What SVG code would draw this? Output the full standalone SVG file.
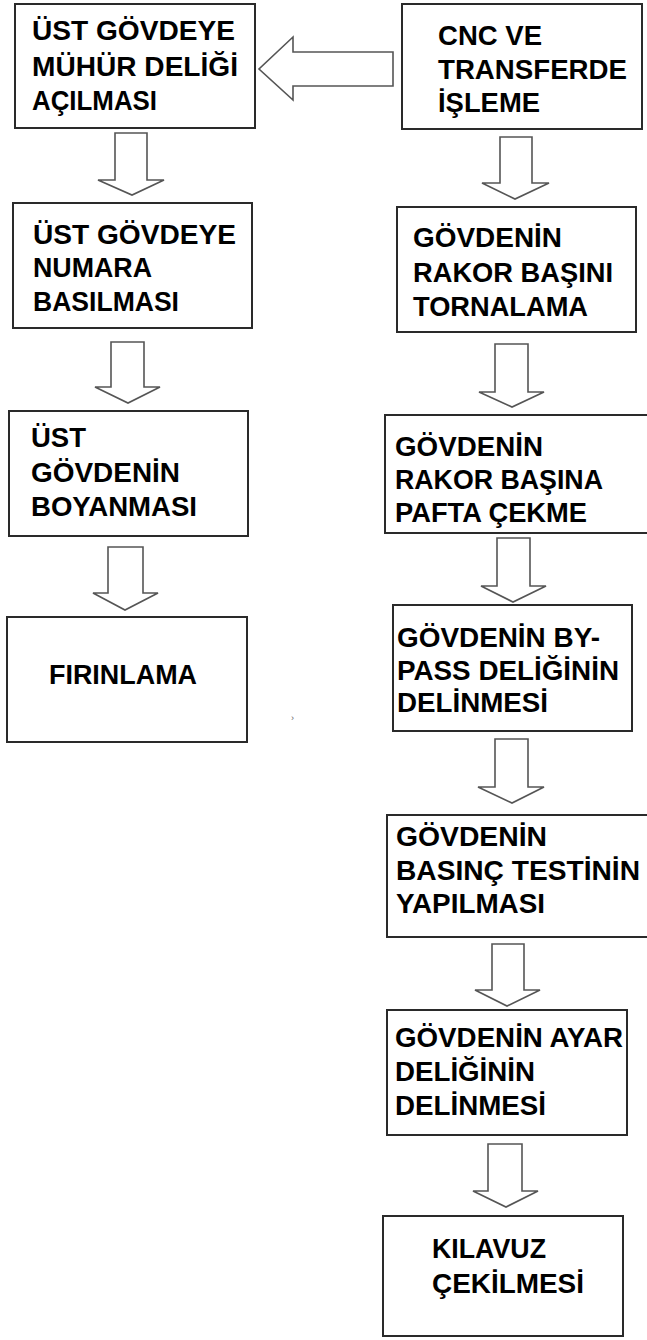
<svg xmlns="http://www.w3.org/2000/svg" width="647" height="1340" viewBox="0 0 647 1340">
<style>
.box{fill:#fff;stroke:#2a2a2a;stroke-width:2}
.arr{fill:#fff;stroke:#555;stroke-width:1.6;stroke-linejoin:miter}
.t{font-family:"Liberation Sans",Arial,sans-serif;font-weight:bold;font-size:27px;fill:#000}
</style>
<rect width="647" height="1340" fill="#fff"/>
<g id="connectors">
<polygon class="arr" points="393,52 393,86 293,86 293,100 259,69 293,37 293,52"/>
<polygon class="arr" points="115,133 147,133 147,180 164,180 132,195 98,180 115,180"/>
<polygon class="arr" points="111,342 144,342 144,387 160,387 128,403 95,387 111,387"/>
<polygon class="arr" points="108,547 143,547 143,593 158,593 125,610 93,593 108,593"/>
<polygon class="arr" points="500,137 532,137 532,183 549,183 515,199 482,183 500,183"/>
<polygon class="arr" points="495,344 528,344 528,392 544,392 512,407 479,392 495,392"/>
<polygon class="arr" points="497,538 530,538 530,586 546,586 513,602 481,586 497,586"/>
<polygon class="arr" points="495,739 528,739 528,787 544,787 512,803 478,787 495,787"/>
<polygon class="arr" points="492,944 524,944 524,990 540,990 507,1006 475,990 492,990"/>
<polygon class="arr" points="488,1144 522,1144 522,1191 538,1191 506,1207 473,1191 488,1191"/>
</g>
<g id="n1">
<rect class="box" x="15" y="4" width="240" height="124"/>
<text class="t" x="32" y="40" textLength="203" lengthAdjust="spacingAndGlyphs">ÜST GÖVDEYE</text>
<text class="t" x="32" y="76" textLength="206" lengthAdjust="spacingAndGlyphs">MÜHÜR DELİĞİ</text>
<text class="t" x="32" y="110" textLength="125" lengthAdjust="spacingAndGlyphs">AÇILMASI</text>
</g>
<g id="n2">
<rect class="box" x="402" y="4" width="240" height="125"/>
<text class="t" x="438" y="45" textLength="104" lengthAdjust="spacingAndGlyphs">CNC VE</text>
<text class="t" x="438" y="79" textLength="189" lengthAdjust="spacingAndGlyphs">TRANSFERDE</text>
<text class="t" x="438" y="112" textLength="102" lengthAdjust="spacingAndGlyphs">İŞLEME</text>
</g>
<g id="n3">
<rect class="box" x="13" y="203" width="239" height="125"/>
<text class="t" x="33" y="244" textLength="203" lengthAdjust="spacingAndGlyphs">ÜST GÖVDEYE</text>
<text class="t" x="33" y="277" textLength="119" lengthAdjust="spacingAndGlyphs">NUMARA</text>
<text class="t" x="33" y="311" textLength="146" lengthAdjust="spacingAndGlyphs">BASILMASI</text>
</g>
<g id="n4">
<rect class="box" x="9" y="411" width="239" height="125"/>
<text class="t" x="31" y="447" textLength="55" lengthAdjust="spacingAndGlyphs">ÜST</text>
<text class="t" x="31" y="482" textLength="149" lengthAdjust="spacingAndGlyphs">GÖVDENİN</text>
<text class="t" x="31" y="516" textLength="166" lengthAdjust="spacingAndGlyphs">BOYANMASI</text>
</g>
<g id="n5">
<rect class="box" x="7" y="617" width="240" height="125"/>
<text class="t" x="49" y="684" textLength="148" lengthAdjust="spacingAndGlyphs">FIRINLAMA</text>
</g>
<g id="n6">
<rect class="box" x="397" y="207" width="239" height="125"/>
<text class="t" x="413" y="247" textLength="149" lengthAdjust="spacingAndGlyphs">GÖVDENİN</text>
<text class="t" x="413" y="282" textLength="200" lengthAdjust="spacingAndGlyphs">RAKOR BAŞINI</text>
<text class="t" x="413" y="316" textLength="175" lengthAdjust="spacingAndGlyphs">TORNALAMA</text>
</g>
<g id="n7">
<rect class="box" x="385" y="415" width="270" height="118"/>
<text class="t" x="395" y="456" textLength="148" lengthAdjust="spacingAndGlyphs">GÖVDENİN</text>
<text class="t" x="395" y="489" textLength="208" lengthAdjust="spacingAndGlyphs">RAKOR BAŞINA</text>
<text class="t" x="395" y="522" textLength="192" lengthAdjust="spacingAndGlyphs">PAFTA ÇEKME</text>
</g>
<g id="n8">
<rect class="box" x="393" y="605" width="239" height="126"/>
<text class="t" x="397" y="647" textLength="203" lengthAdjust="spacingAndGlyphs">GÖVDENİN BY-</text>
<text class="t" x="397" y="680" textLength="222" lengthAdjust="spacingAndGlyphs">PASS DELİĞİNİN</text>
<text class="t" x="397" y="712" textLength="151" lengthAdjust="spacingAndGlyphs">DELİNMESİ</text>
</g>
<g id="n9">
<rect class="box" x="387" y="815" width="270" height="122"/>
<text class="t" x="396" y="846" textLength="151" lengthAdjust="spacingAndGlyphs">GÖVDENİN</text>
<text class="t" x="396" y="880" textLength="244" lengthAdjust="spacingAndGlyphs">BASINÇ TESTİNİN</text>
<text class="t" x="396" y="913" textLength="149" lengthAdjust="spacingAndGlyphs">YAPILMASI</text>
</g>
<g id="n10">
<rect class="box" x="387" y="1010" width="240" height="125"/>
<text class="t" x="395" y="1047" textLength="228" lengthAdjust="spacingAndGlyphs">GÖVDENİN AYAR</text>
<text class="t" x="395" y="1081" textLength="140" lengthAdjust="spacingAndGlyphs">DELİĞİNİN</text>
<text class="t" x="395" y="1115" textLength="151" lengthAdjust="spacingAndGlyphs">DELİNMESİ</text>
</g>
<g id="n11">
<rect class="box" x="383" y="1216" width="240" height="120"/>
<text class="t" x="432" y="1258" textLength="114" lengthAdjust="spacingAndGlyphs">KILAVUZ</text>
<text class="t" x="432" y="1293" textLength="152" lengthAdjust="spacingAndGlyphs">ÇEKİLMESİ</text>
</g>
<text x="291" y="721" style="font-family:'Liberation Sans',sans-serif;font-size:9px;fill:#666">›</text>
</svg>
